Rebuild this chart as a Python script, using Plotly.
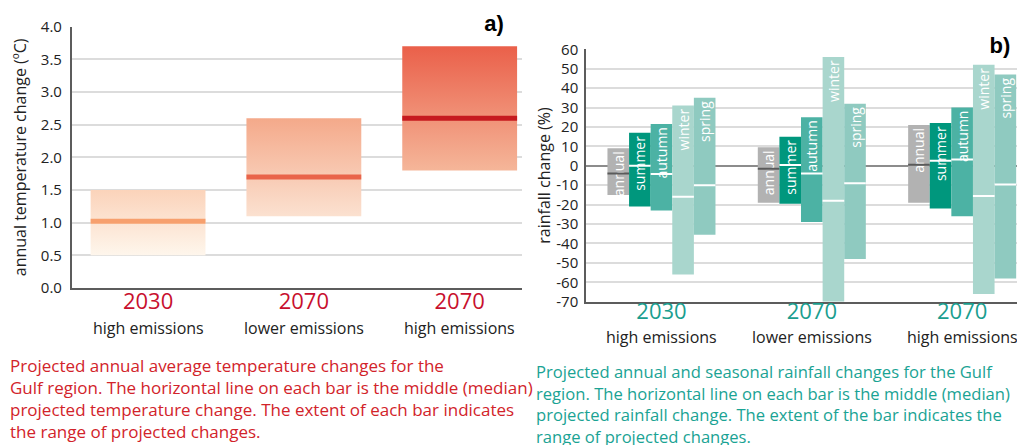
import plotly.graph_objects as go

# ---------------- data ----------------
# Panel a) temperature
temp_years = ["2030", "2070", "2070"]
temp_scen = ["high emissions", "lower emissions", "high emissions"]
temp_low = [0.5, 1.1, 1.8]
temp_high = [1.5, 2.6, 3.7]
temp_med = [1.02, 1.7, 2.6]
temp_bot_col = ["#fef6ec", "#fbe1d0", "#f5b699"]
temp_top_col = ["#fbd3ba", "#f4a98a", "#ea604a"]
temp_med_col = ["#f7a06e", "#e9644a", "#c61a1f"]
temp_ticks = [0.0, 0.5, 1.0, 1.5, 2.0, 2.5, 3.0, 3.5, 4.0]

# Panel b) rainfall
rain_years = ["2030", "2070", "2070"]
rain_scen = ["high emissions", "lower emissions", "high emissions"]
seasons = ["annual", "summer", "autumn", "winter", "spring"]
season_col = ["#b2b2b2", "#00977d", "#4cb2a4", "#a9d6cd", "#8fcac0"]
season_med_col = ["#5a5a5a", "#ffffff", "#ffffff", "#ffffff", "#ffffff"]
rain_low = {
    "annual": [-15, -19, -19],
    "summer": [-21, -19.5, -22],
    "autumn": [-23, -29, -26],
    "winter": [-56, -70, -66],
    "spring": [-35.5, -48, -58],
}
rain_high = {
    "annual": [9, 9.5, 21],
    "summer": [17, 15, 22],
    "autumn": [21.5, 25, 30],
    "winter": [31, 56, 52],
    "spring": [35, 32, 47],
}
rain_med = {
    "annual": [-4, -1.5, 0.6],
    "summer": [0, 0.4, 2.6],
    "autumn": [-4.2, -4, 3.3],
    "winter": [-16, -18, -15.5],
    "spring": [-10, -9, -9.6],
}
rain_ticks = [60, 50, 40, 30, 20, 10, 0, -10, -20, -30, -40, -50, -60, -70]

caption_a = ("Projected annual average temperature changes for the<br>"
             "Gulf region. The horizontal line on each bar is the middle (median)<br>"
             "projected temperature change. The extent of each bar indicates<br>"
             "the range of projected changes.")
caption_b = ("Projected annual and seasonal rainfall changes for the Gulf<br>"
             "region. The horizontal line on each bar is the middle (median)<br>"
             "projected rainfall change. The extent of the bar indicates the<br>"
             "range of projected changes.")

# ---------------- styles / layout helpers ----------------
FONT = "Open Sans"
RED = "#c8102e"
TEAL = "#1a9e8f"
GRID = "#dcdcdc"
AXIS = "#5c5c5c"
TXT = "#222222"
OX, OY = 8, 8            # page body margin
FW, FH = 1017, 437       # figure size


def px(x):
    return (x - OX) / FW


def py(y):
    return 1 - (y - OY) / FH


BW_A = 0.737   # bar width panel a (axis units)
BW_B = 0.1437  # bar width panel b (axis units)

fig = go.Figure()

# ---- panel a bars (gradient rectangles) ----
for i in range(len(temp_low)):
    x0, x1 = i - BW_A / 2, i + BW_A / 2
    lo, hi = temp_low[i], temp_high[i]
    fig.add_trace(go.Scatter(
        x=[x0, x1, x1, x0, x0], y=[lo, lo, hi, hi, lo],
        mode="lines", line=dict(width=0), fill="toself",
        fillgradient=dict(type="vertical",
                          colorscale=[[0, temp_bot_col[i]], [1, temp_top_col[i]]]),
        xaxis="x", yaxis="y", showlegend=False, hoverinfo="skip"))
    fig.add_trace(go.Scatter(
        x=[x0, x1], y=[temp_med[i], temp_med[i]], mode="lines",
        line=dict(color=temp_med_col[i], width=5),
        xaxis="x", yaxis="y", showlegend=False, hoverinfo="skip"))

# ---- panel b bars ----
for j, s in enumerate(seasons):
    xs = [g + (j - 2) * BW_B for g in range(len(rain_years))]
    fig.add_trace(go.Bar(
        x=xs, base=rain_low[s],
        y=[h - l for h, l in zip(rain_high[s], rain_low[s])],
        width=BW_B, marker=dict(color=season_col[j], line=dict(width=0)),
        text=[s] * len(xs), textposition="inside", insidetextanchor="end",
        textangle=-90, constraintext="none",
        textfont=dict(family=FONT, size=14, color="#ffffff"),
        xaxis="x2", yaxis="y2", showlegend=False, hoverinfo="skip"))
for j, s in enumerate(seasons):
    mx, my = [], []
    for g in range(len(rain_years)):
        c = g + (j - 2) * BW_B
        mx += [c - BW_B / 2, c + BW_B / 2, None]
        my += [rain_med[s][g], rain_med[s][g], None]
    fig.add_trace(go.Scatter(
        x=mx, y=my, mode="lines",
        line=dict(color=season_med_col[j], width=2),
        xaxis="x2", yaxis="y2", showlegend=False, hoverinfo="skip"))

common_x = dict(showgrid=False, zeroline=False, showline=True, linecolor=AXIS,
                linewidth=1.5, ticks="", fixedrange=True, automargin=False)
common_y = dict(showgrid=True, gridcolor=GRID, gridwidth=1.5, showline=True,
                linecolor=AXIS, linewidth=1.5, ticks="", automargin=False,
                tickfont=dict(size=15, color=TXT))

fig.update_layout(
    width=FW, height=FH,
    margin=dict(l=0, r=0, t=0, b=0),
    paper_bgcolor="white", plot_bgcolor="white",
    barmode="overlay",
    font=dict(family=FONT, color=TXT),
    xaxis=dict(domain=[px(71.7), px(522)], range=[-0.49, 2.40], anchor="y",
               tickvals=list(range(len(temp_years))), ticktext=temp_years,
               ticklabelstandoff=-7, tickfont=dict(size=22, color=RED),
               **common_x),
    yaxis=dict(domain=[py(288), py(26.7)], range=[0, 4.0], anchor="x",
               tickvals=temp_ticks, ticktext=[f"{v:.1f}" for v in temp_ticks],
               zeroline=False, ticklabelstandoff=5,
               title=dict(text="annual temperature change (ºC)",
                          font=dict(size=16, color=TXT), standoff=10),
               **common_y),
    xaxis2=dict(domain=[px(586), 1.0], range=[-0.502, 2.418], anchor="y2",
                tickvals=list(range(len(rain_years))), ticktext=rain_years,
                ticklabelstandoff=-11, tickfont=dict(size=22, color=TEAL),
                **common_x),
    yaxis2=dict(domain=[py(301.7), py(49.3)], range=[-70, 60], anchor="x2",
                tickvals=rain_ticks, ticktext=[str(v) for v in rain_ticks],
                zeroline=True, zerolinecolor="#8c8c8c", zerolinewidth=2,
                ticklabelstandoff=3,
                title=dict(text="rainfall change (%)",
                           font=dict(size=16, color=TXT), standoff=2),
                **common_y),
)

# scenario names under the years
for i, s in enumerate(temp_scen):
    fig.add_annotation(text=s, x=i, xref="x", y=py(328), yref="paper",
                       showarrow=False, yanchor="middle",
                       font=dict(family=FONT, size=16, color=TXT))
for i, s in enumerate(rain_scen):
    fig.add_annotation(text=s, x=i, xref="x2", y=py(337), yref="paper",
                       showarrow=False, yanchor="middle",
                       font=dict(family=FONT, size=16, color=TXT))

fig.add_annotation(text="<b>a)</b>", x=px(494), y=py(24),
                   xref="paper", yref="paper", showarrow=False,
                   font=dict(family="Liberation Sans", size=22, color="#000"),
                   bgcolor="white", width=62, xanchor="center", yanchor="middle")
fig.add_annotation(text="<b>b)</b>", x=px(1000), y=py(45),
                   xref="paper", yref="paper", showarrow=False,
                   font=dict(family="Liberation Sans", size=22, color="#000"),
                   bgcolor="white", width=56, xanchor="center", yanchor="middle")

fig.add_annotation(text=caption_a, x=px(8), y=py(352),
                   xref="paper", yref="paper", showarrow=False,
                   xanchor="left", yanchor="top", align="left",
                   font=dict(family=FONT, size=17, color="#d2232a"))
fig.add_annotation(text=caption_b, x=px(534), y=py(358),
                   xref="paper", yref="paper", showarrow=False,
                   xanchor="left", yanchor="top", align="left",
                   font=dict(family=FONT, size=16.6, color="#1aa394"))

fig.write_html("out.html")
